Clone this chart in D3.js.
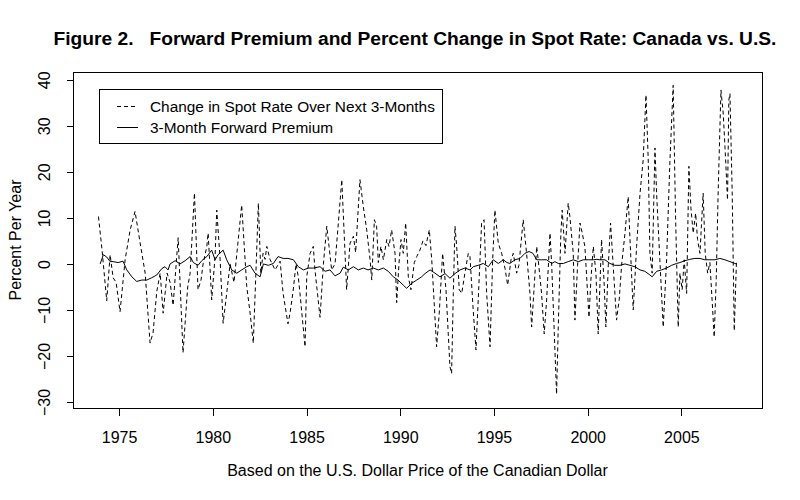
<!DOCTYPE html>
<html>
<head>
<meta charset="utf-8">
<script src="https://cdn.jsdelivr.net/npm/d3@7"></script>
<style>
  body { margin: 0; background: #fff; }
  text { font-family: "Liberation Sans", Arial, sans-serif; fill: #000; }
</style>
</head>
<body>
<div id="chart"></div>
<script>
// dashed series: change in spot rate over next 3 months
var spotYears = [1973.90,1974.09,1974.34,1974.52,1974.68,1974.84,1975.05,1975.32,1975.59,1975.85,
  1976.12,1976.39,1976.65,1976.81,1977.01,1977.19,1977.35,1977.56,1977.72,1977.88,
  1978.15,1978.41,1978.66,1978.79,1979.02,1979.21,1979.37,1979.48,1979.68,1979.75,
  1979.94,1980.12,1980.21,1980.39,1980.55,1980.74,1980.92,1981.13,1981.54,1981.81,
  1981.99,1982.16,1982.31,1982.43,1982.56,1982.68,1982.79,1982.88,1983.05,1983.32,
  1983.59,1983.75,1984.01,1984.12,1984.28,1984.44,1984.56,1984.65,1984.92,1985.01,
  1985.19,1985.36,1985.45,1985.72,1985.90,1986.08,1986.20,1986.34,1986.52,1986.68,
  1986.88,1987.14,1987.32,1987.50,1987.62,1987.85,1988.03,1988.21,1988.39,1988.48,
  1988.62,1988.74,1988.83,1988.97,1989.10,1989.28,1989.40,1989.54,1989.72,1989.81,
  1989.93,1990.04,1990.16,1990.29,1990.43,1990.57,1990.75,1990.88,1991.05,1991.21,
  1991.37,1991.55,1991.68,1991.80,1991.94,1992.08,1992.26,1992.44,1992.65,1992.74,
  1992.83,1992.92,1993.01,1993.15,1993.28,1993.45,1993.63,1993.72,1993.88,1994.04,
  1994.16,1994.34,1994.47,1994.61,1994.79,1994.93,1995.05,1995.23,1995.41,1995.59,
  1995.73,1995.91,1996.03,1996.21,1996.33,1996.56,1996.74,1996.92,1997.01,1997.15,
  1997.28,1997.36,1997.54,1997.68,1997.81,1997.99,1998.08,1998.22,1998.34,1998.43,
  1998.57,1998.64,1998.79,1998.96,1999.05,1999.23,1999.32,1999.46,1999.59,1999.71,
  1999.85,2000.07,2000.17,2000.30,2000.44,2000.56,2000.74,2000.87,2000.97,2001.10,
  2001.22,2001.36,2001.54,2001.68,2001.81,2001.99,2002.16,2002.29,2002.43,2002.61,
  2002.79,2002.96,2003.11,2003.23,2003.32,2003.44,2003.59,2003.68,2003.85,2004.03,
  2004.21,2004.39,2004.56,2004.69,2004.83,2004.92,2005.04,2005.15,2005.28,2005.40,
  2005.51,2005.63,2005.76,2005.86,2005.99,2006.16,2006.27,2006.40,2006.52,2006.64,
  2006.75,2006.86,2006.96,2007.11,2007.23,2007.36,2007.46,2007.53,2007.59,2007.71,
  2007.82,2007.94];
var spotChange = [10.3,3,-8,2,-3,-4,-10.4,0.9,7.4,11.4,
  4.6,-2,-17.2,-15,-6,-2,-10.7,-2,-4,-9,
  5.7,-19.3,-5,-2,15.4,-5.6,-3.5,0,3.8,6.7,
  -7.8,1.6,11.7,0.9,-12.9,-6.4,0,-4,12.8,-4.9,
  -10.7,-17.2,-0.6,13.2,-2,2.3,1,3.8,1,-1.3,
  0.6,-6.4,-13,-10.7,-6,0,-2.8,-6.4,-18,-2.8,
  2.3,3.8,-1.3,-11.6,0,8.2,3.8,-1.3,0,8,
  18.3,-5.6,4.5,6,2.5,18.3,12.4,7.4,0.9,-3.5,
  9.6,8.2,0.3,3.8,0.9,5.3,3.8,7.4,2.3,-8.4,
  0,5.3,2.3,8.9,-2.8,-5.6,0.3,1.6,3,5,
  4,7.4,0.9,-7.8,-18,-10.7,2.3,-5.6,-22.3,-23.8,
  -6.4,8.2,3.8,-5.6,-6.4,-2,2.3,1.6,-9.3,-18.7,
  -7.8,8.9,9.6,-6.4,-18,0.9,11.7,4.5,2.3,-1,
  -4.6,0.9,2.3,-2,-0.3,9.6,2.3,-6.4,-13.7,-4.6,
  3.8,0.9,-6.4,-15.2,-7.8,6.7,-0.3,-15.2,-28.3,-13.7,
  6.7,11.7,2.3,13.2,10.3,2.3,-12.2,-0.3,8.9,6.7,
  3.8,-11.6,-3.5,3.8,-2,-15.2,5.3,-3.5,-13.7,-0.3,
  8.9,-0.3,-12.2,-7.8,-0.3,6.7,14.6,2.3,-10,3.8,
  15.2,22.6,36.7,22.6,2.3,-2,25.2,15,0.9,-13.7,
  0.9,22.6,38.8,10,-13.7,-2,-5.6,0.9,-6.4,21.2,
  12,6.7,11,5.3,2.3,15.4,2.3,-2,0.3,-8,
  -15.9,-3,15.4,37.8,32.8,22.6,13.9,35.6,37,15.4,
  -14.5,0.9];

// solid series: 3-month forward premium
var fwdYears = [1973.99,1974.16,1974.34,1974.52,1974.68,1974.95,1975.21,1975.41,1975.68,1975.94,
  1976.21,1976.48,1976.74,1977.01,1977.28,1977.45,1977.61,1977.72,1977.99,1978.25,
  1978.52,1978.79,1978.96,1979.21,1979.41,1979.68,1979.94,1980.12,1980.28,1980.55,
  1980.74,1981.01,1981.28,1981.54,1981.81,1981.99,1982.25,1982.52,1982.70,1982.96,
  1983.23,1983.48,1983.75,1984.01,1984.30,1984.56,1984.83,1985.10,1985.36,1985.72,
  1985.99,1986.25,1986.52,1986.79,1986.96,1987.23,1987.50,1987.76,1988.03,1988.28,
  1988.56,1988.83,1989.10,1989.36,1989.63,1989.88,1990.16,1990.34,1990.61,1990.88,
  1991.14,1991.32,1991.59,1991.85,1992.12,1992.39,1992.65,1992.92,1993.19,1993.45,
  1993.72,1993.90,1994.16,1994.43,1994.70,1994.96,1995.23,1995.50,1995.69,1995.85,
  1996.12,1996.39,1996.65,1996.87,1997.08,1997.28,1997.54,1997.81,1998.08,1998.25,
  1998.43,1998.70,1998.96,1999.23,1999.50,1999.76,2000.03,2000.30,2000.49,2000.65,
  2000.92,2001.19,2001.45,2001.72,2001.99,2002.25,2002.52,2002.79,2003.05,2003.32,
  2003.44,2003.68,2003.94,2004.21,2004.48,2004.74,2004.92,2005.19,2005.45,2005.72,
  2005.99,2006.25,2006.52,2006.79,2007.05,2007.32,2007.59,2007.85,2007.94];
var fwdPremium = [0,2,1.5,0.5,0.5,0.3,0.6,-1.3,-2.8,-3.8,
  -3.5,-3.5,-3,-2.4,-1,-0.6,-1.3,0,0.7,0,
  0.7,1.6,0.3,-0.3,0.7,1.6,3,0.9,2,3,
  0.9,-1.3,-2,-1.3,-0.6,-0.3,-2,-2.8,0,-0.3,
  0.1,1.6,1.2,1.2,0.9,-0.6,-1.3,-0.9,-0.9,-0.6,
  -1.6,-1.3,-2.6,-2,-0.7,-1.3,-0.6,-1.3,-0.9,-1.3,
  -0.9,-1.3,-0.9,-1.6,-2.8,-3.5,-4.6,-5.3,-4.2,-3.5,
  -2.8,-2.1,-1.3,-2,-2.8,-2.1,-3.1,-2.1,-1.3,-0.9,
  -1.3,-0.6,-0.3,0.1,-0.6,0.9,0.1,0.9,0.3,0.1,
  0.9,1.2,2.3,2.7,2.3,0.9,0.9,0.9,0.1,0.5,
  0.1,0.1,0.5,0.9,0.5,0.9,0.9,0.9,1,0.9,
  0.9,0.1,-0.3,-0.3,0,-0.3,-0.6,-1.3,-1.6,-2.4,
  -2.8,-1.6,-1.3,-0.9,-0.3,0.1,0.3,0.7,1,1.2,
  1.2,0.9,0.9,0.9,1.2,0.9,0.5,0.1,0];

var xTicks = [1975, 1980, 1985, 1990, 1995, 2000, 2005];
var yTicks = [-30, -20, -10, 0, 10, 20, 30, 40];
var legendLabels = ["Change in Spot Rate Over Next 3-Months", "3-Month Forward Premium"];

/// page and plot box ///
var svgWidth = 800;
var svgHeight = 500;
var box = { left: 73, right: 762, top: 72, bottom: 408 };
var fontSize = 16;

var svg = d3.select("#chart")
    .append("svg")
    .attr("width", svgWidth)
    .attr("height", svgHeight)
    .style("background", "#fff");

/// scales (R style 4% padding around the data) ///
var x = d3.scaleLinear()
    .domain([1972.54, 2009.30])
    .range([box.left, box.right]);

var y = d3.scaleLinear()
    .domain([-31.3, 41.7])
    .range([box.bottom, box.top]);

/// lines ///
var spotLine = d3.line()
    .x(function (d, i) { return x(spotYears[i]); })
    .y(function (d) { return y(d); });

var fwdLine = d3.line()
    .x(function (d, i) { return x(fwdYears[i]); })
    .y(function (d) { return y(d); });

svg.append("path")
    .datum(spotChange)
    .attr("d", spotLine)
    .attr("fill", "none")
    .attr("stroke", "#000")
    .attr("stroke-width", 1)
    .attr("stroke-dasharray", "4,3");

svg.append("path")
    .datum(fwdPremium)
    .attr("d", fwdLine)
    .attr("fill", "none")
    .attr("stroke", "#000")
    .attr("stroke-width", 1);

/// box ///
svg.append("rect")
    .attr("x", box.left + 0.5)
    .attr("y", box.top + 0.5)
    .attr("width", box.right - box.left)
    .attr("height", box.bottom - box.top)
    .attr("fill", "none")
    .attr("stroke", "#000")
    .attr("shape-rendering", "crispEdges");

/// axes ///
var xAxis = d3.axisBottom(x).tickValues(xTicks).tickSize(7).tickPadding(16).tickFormat(d3.format("d"));
var gx = svg.append("g")
    .attr("transform", "translate(0," + (box.bottom + 0.5) + ")")
    .call(xAxis);
gx.select(".domain").attr("d", "M" + x(1975) + ",0H" + x(2005));
gx.selectAll("text").attr("font-size", fontSize).style("font-family", "'Liberation Sans', Arial, sans-serif");

var yAxis = d3.axisLeft(y).tickValues(yTicks).tickSize(7);
var gy = svg.append("g")
    .attr("transform", "translate(" + (box.left + 0.5) + ",0)")
    .call(yAxis);
gy.select(".domain").attr("d", "M0," + y(-30) + "V" + y(40));
gy.selectAll("text")
    .attr("x", null)
    .attr("dy", null)
    .attr("y", 0)
    .attr("text-anchor", "middle")
    .attr("font-size", fontSize)
    .style("font-family", "'Liberation Sans', Arial, sans-serif")
    .attr("transform", "translate(-24,0) rotate(-90)");

svg.selectAll(".tick line, .domain").attr("shape-rendering", "crispEdges");

/// titles ///
svg.append("text")
    .attr("x", 415)
    .attr("y", 45)
    .attr("text-anchor", "middle")
    .attr("font-size", 19.2)
    .attr("font-weight", "bold")
    .style("white-space", "pre")
    .text("Figure 2.   Forward Premium and Percent Change in Spot Rate: Canada vs. U.S.");

svg.append("text")
    .attr("transform", "translate(21," + ((box.top + box.bottom) / 2) + ") rotate(-90)")
    .attr("text-anchor", "middle")
    .attr("font-size", fontSize)
    .text("Percent Per Year");

svg.append("text")
    .attr("x", (box.left + box.right) / 2)
    .attr("y", 476)
    .attr("text-anchor", "middle")
    .attr("font-size", fontSize)
    .text("Based on the U.S. Dollar Price of the Canadian Dollar");

/// legend ///
var legend = svg.append("g").attr("transform", "translate(99,89)");
legend.append("rect")
    .attr("x", 0.5).attr("y", 0.5)
    .attr("width", 343).attr("height", 54)
    .attr("fill", "#fff")
    .attr("stroke", "#000")
    .attr("shape-rendering", "crispEdges");

legendLabels.forEach(function (lab, i) {
    var ly = 17 + i * 21;
    legend.append("line")
        .attr("x1", 18).attr("x2", 39)
        .attr("y1", ly + 0.5).attr("y2", ly + 0.5)
        .attr("stroke", "#000")
        .attr("stroke-dasharray", i === 0 ? "4,3" : null);
    legend.append("text")
        .attr("x", 51)
        .attr("y", ly + 6)
        .attr("font-size", 15.4)
        .text(lab);
});
</script>
</body>
</html>
